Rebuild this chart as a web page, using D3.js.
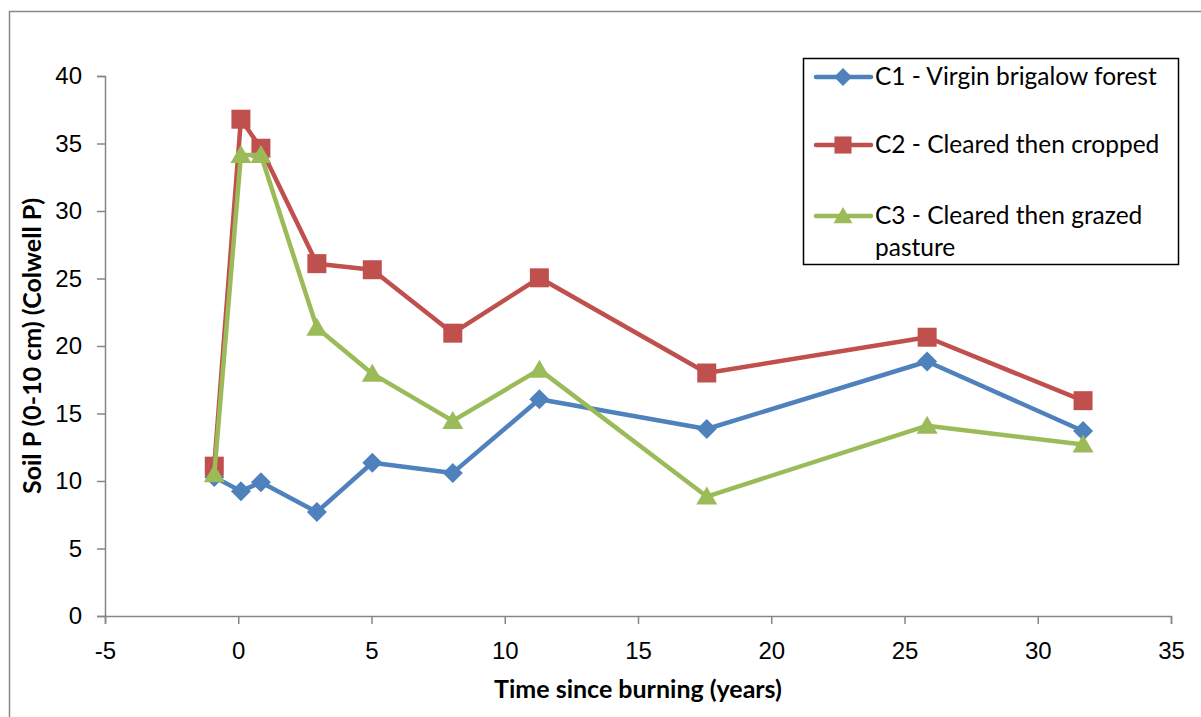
<!DOCTYPE html>
<html>
<head>
  <meta charset="utf-8">
  <title>Soil P after burning</title>
  <script src="https://cdn.jsdelivr.net/npm/d3@7"></script>
  <style>
    body { margin: 0; background: #ffffff; }
    svg { display: block; font-family: Lato, "Open Sans", sans-serif; }
    .axis path, .axis line { stroke: #868686; stroke-width: 1.5; fill: none; }
    .axis text { font-size: 24px; fill: #000; }
    .title { font-size: 25px; font-weight: bold; text-anchor: middle; }
    .legend text { font-size: 24.5px; }
  </style>
</head>
<body>
<script>
  // Values
  var years = [-0.9, 0.1, 0.85, 2.95, 5.03, 8.05, 11.3, 17.58, 25.85, 31.7];
  var c1 = [10.3, 9.25, 9.9, 7.7, 11.35, 10.6, 16.05, 13.85, 18.85, 13.7];
  var c2 = [11.1, 36.8, 34.65, 26.1, 25.65, 20.95, 25.05, 18.0, 20.65, 15.95];
  var c3 = [10.5, 34.15, 34.15, 21.35, 17.95, 14.45, 18.25, 8.85, 14.1, 12.7];
  var seriesNames = ["C1 - Virgin brigalow forest", "C2 - Cleared then cropped", "C3 - Cleared then grazed pasture"];
  var xTicks = [-5, 0, 5, 10, 15, 20, 25, 30, 35];
  var yTicks = [0, 5, 10, 15, 20, 25, 30, 35, 40];

  var colors = ["#4F81BD", "#C0504D", "#9BBB59"];
  var shapes = ["diamond", "square", "triangle"];
  var series = [c1, c2, c3].map(function(vals, i) {
    return {
      name: seriesNames[i], color: colors[i], shape: shapes[i],
      points: vals.map(function(v, j) { return {x: years[j], y: v}; })
    };
  });

  var width = 1201, height = 717;
  var svg = d3.select("body").append("svg")
      .attr("width", width)
      .attr("height", height);

  // outer chart frame (cut off on right and bottom)
  svg.append("rect")
      .attr("x", 9.5).attr("y", 11.5)
      .attr("width", 1300).attr("height", 800)
      .attr("fill", "none")
      .attr("stroke", "#888888")
      .attr("stroke-width", 1.5);

  var xScale = d3.scaleLinear().domain([-5, 35]).range([105, 1171]);
  var yScale = d3.scaleLinear().domain([0, 40]).range([616, 76]);

  // plain hyphen for negatives, like the original
  var plain = function(d) { return String(d); };

  svg.append("g")
      .attr("class", "axis")
      .attr("transform", "translate(0," + yScale(0) + ")")
      .call(d3.axisBottom(xScale).tickValues(xTicks).tickFormat(plain)
        .tickSize(8).tickSizeOuter(8).tickPadding(18));

  svg.append("g")
      .attr("class", "axis")
      .attr("transform", "translate(" + xScale(-5) + ",0)")
      .call(d3.axisLeft(yScale).tickValues(yTicks).tickFormat(plain)
        .tickSize(8).tickSizeOuter(8).tickPadding(15));

  // marker shapes
  function marker(shape) {
    if (shape == "diamond") return "M0,-10L10,0L0,10L-10,0Z";
    if (shape == "square") return "M-9.5,-9.5H9.5V9.5H-9.5Z";
    return "M0,-10L10.5,8L-10.5,8Z";
  }

  var line = d3.line()
      .x(function(d) { return xScale(d.x); })
      .y(function(d) { return yScale(d.y); });

  series.forEach(function(s) {
    var g = svg.append("g");
    g.append("path")
        .datum(s.points)
        .attr("d", line)
        .attr("fill", "none")
        .attr("stroke", s.color)
        .attr("stroke-width", 4.5)
        .attr("stroke-linejoin", "round");
    g.selectAll("path.pt")
        .data(s.points)
        .enter()
        .append("path")
        .attr("class", "pt")
        .attr("d", marker(s.shape))
        .attr("transform", function(d) {
          return "translate(" + xScale(d.x) + "," + yScale(d.y) + ")";
        })
        .attr("fill", s.color);
  });

  // axis titles
  svg.append("text")
      .attr("class", "title")
      .attr("x", 638)
      .attr("y", 698)
      .text("Time since burning (years)");

  svg.append("text")
      .attr("class", "title")
      .attr("transform", "translate(41,346) rotate(-90)")
      .text("Soil P (0-10 cm) (Colwell P)");

  // legend
  var legend = svg.append("g").attr("class", "legend");
  legend.append("rect")
      .attr("x", 803.5).attr("y", 58.5)
      .attr("width", 375).attr("height", 206)
      .attr("fill", "#ffffff")
      .attr("stroke", "#000000")
      .attr("stroke-width", 1.5);

  var rowY = [77, 145, 216];
  series.forEach(function(s, i) {
    var item = legend.append("g").attr("transform", "translate(0," + rowY[i] + ")");
    item.append("line")
        .attr("x1", 816).attr("x2", 871)
        .attr("stroke", s.color)
        .attr("stroke-width", 4.5)
        .attr("stroke-linecap", "round");
    item.append("path")
        .attr("d", marker(s.shape))
        .attr("transform", "translate(843,0) scale(0.9)")
        .attr("fill", s.color);
    var words = s.name.split(" ");
    var t = item.append("text").attr("x", 875).attr("y", 8);
    if (i == 2) {
      t.append("tspan").text(words.slice(0, -1).join(" "));
      t.append("tspan").attr("x", 875).attr("dy", 32).text(words[words.length - 1]);
    } else {
      t.text(s.name);
    }
  });
</script>
</body>
</html>
